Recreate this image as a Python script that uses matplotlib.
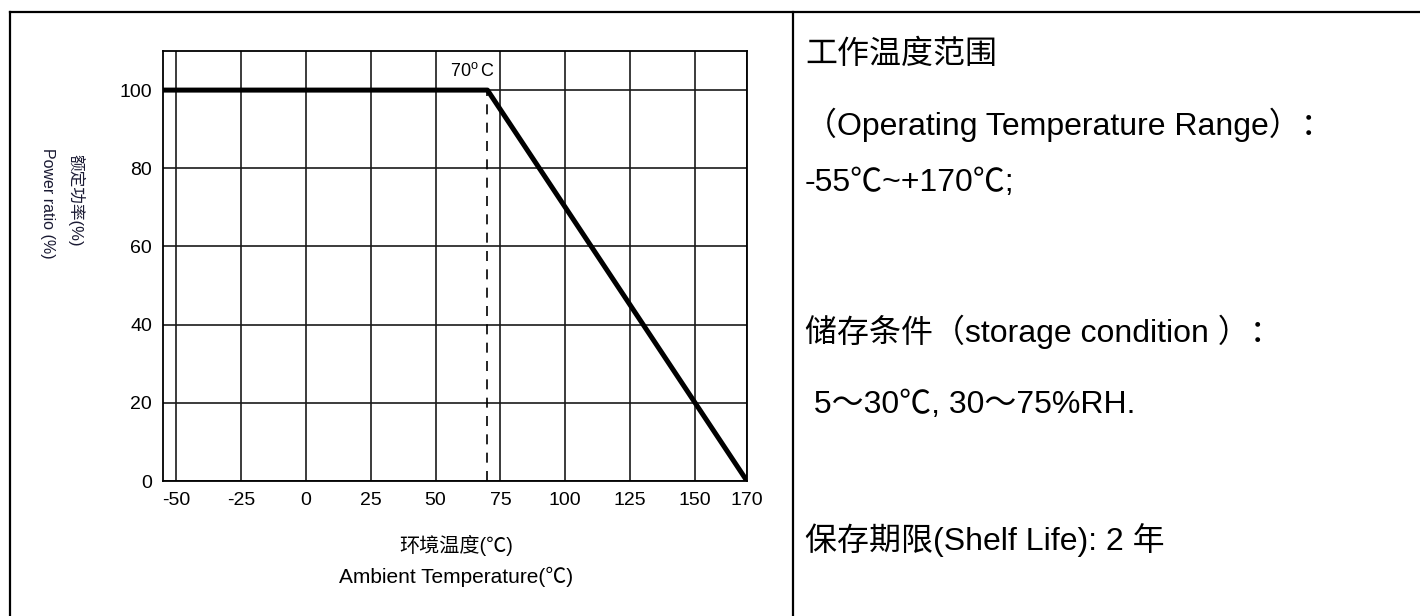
import matplotlib
matplotlib.use("Agg")
import matplotlib.pyplot as plt
from matplotlib.lines import Line2D

plt.rcParams['font.family'] = ['Liberation Sans', 'Noto Sans CJK SC', 'DejaVu Sans']
plt.rcParams['axes.unicode_minus'] = False

# derating curve
temps = [-55, 70, 170]
power = [100, 100, 0]
knee_temp = 70
knee_power = 100

x_ticks = [-50, -25, 0, 25, 50, 75, 100, 125, 150, 170]
y_ticks = [0, 20, 40, 60, 80, 100]

right_lines = [
    "工作温度范围",
    "（Operating Temperature Range）：",
    "-55℃~+170℃;",
    "储存条件（storage condition ）：",
    " 5～30℃, 30～75%RH.",
    "保存期限(Shelf Life): 2 年",
]
right_y = [55, 125, 183, 332, 405, 540]  # pixel rows from top

W, H = 1420, 616
fig = plt.figure(figsize=(W / 100, H / 100), dpi=100)

# table frame
def px_line(x0, y0, x1, y1, lw=1.6):
    fig.add_artist(Line2D([x0 / W, x1 / W], [1 - y0 / H, 1 - y1 / H],
                          color='black', linewidth=lw, transform=fig.transFigure))

px_line(10, 12, W, 12)
px_line(10, 12, 10, H)
px_line(793, 12, 793, H)

ax = fig.add_axes([163 / W, 1 - 481 / H, (747 - 163) / W, (481 - 51) / H])
ax.plot(temps, power, color='black', linewidth=3.6, solid_capstyle='butt', zorder=3)
ax.plot([knee_temp, knee_temp], [0, knee_power], color='black', linewidth=1.2,
        linestyle=(0, (6, 5)), zorder=2)
ax.text(knee_temp + 3, 105, "70$^{\\mathregular{o}}\\,$C", ha='right', va='center', fontsize=13)

ax.set_xlim(-55, 170)
ax.set_ylim(0, 110)
ax.set_xticks(x_ticks)
ax.set_yticks(y_ticks)
ax.tick_params(length=0, labelsize=14, pad=8)
ax.grid(True, color='#1a1a1a', linewidth=1.2)
ax.set_axisbelow(True)
for s in ax.spines.values():
    s.set_linewidth(1.3)
    s.set_color('black')

# axis titles
fig.text(48 / W, 1 - 203 / H, "Power ratio (%)", rotation=-90, ha='center', va='center',
         fontsize=11.5, color='#1a1a33')
fig.text(76 / W, 1 - 200 / H, "额定功率(%)", rotation=-90, ha='center', va='center',
         fontsize=12, color='#1a1a33')
fig.text(456 / W, 1 - 545 / H, "环境温度(℃)", ha='center', va='center', fontsize=14.5)
fig.text(456 / W, 1 - 577 / H, "Ambient Temperature(℃)", ha='center', va='center', fontsize=15)

# right-hand notes
for txt, yy in zip(right_lines, right_y):
    fig.text(805 / W, 1 - yy / H, txt, ha='left', va='center', fontsize=23)

fig.savefig("out.png", dpi=100)
